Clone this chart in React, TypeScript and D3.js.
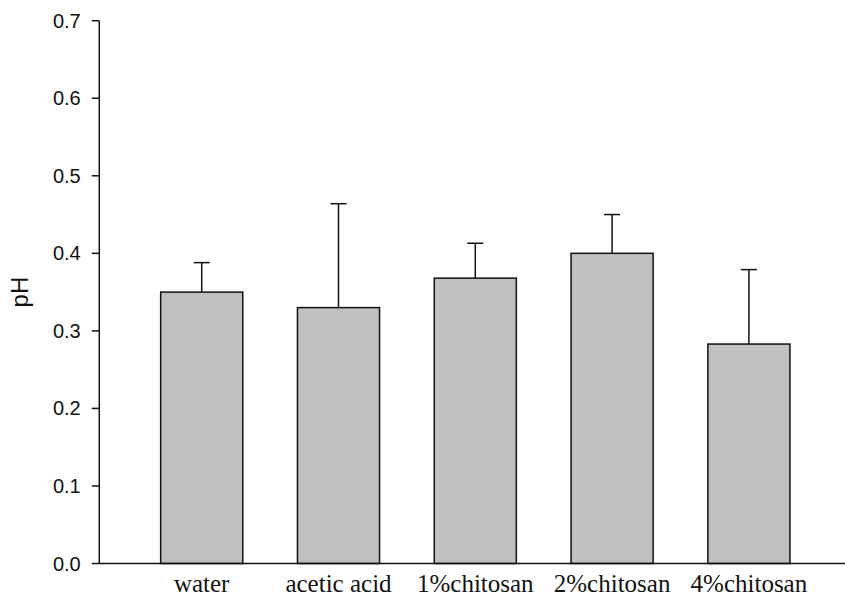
import { scaleLinear, scaleBand, range } from "d3";

const width = 845;
const height = 596;

const categories = ["water", "acetic acid", "1%chitosan", "2%chitosan", "4%chitosan"];
const means = [0.35, 0.33, 0.368, 0.4, 0.283];
const errors = [0.038, 0.134, 0.045, 0.05, 0.096];
const yTicks = [0.0, 0.1, 0.2, 0.3, 0.4, 0.5, 0.6, 0.7];
const yAxisLabel = "pH";

const axisX = 99.3;
const y0 = 563.5;
const yTop = 20.7;
const capHalf = 8;

export default function App() {
  const yScale = scaleLinear().domain([0, 0.7]).range([y0, yTop]);
  const xScale = scaleBand()
    .domain(categories)
    .range([133.3, 817.3])
    .paddingInner(0.4)
    .paddingOuter(0.2);

  const data = range(categories.length).map((i) => ({
    name: categories[i],
    value: means[i],
    err: errors[i],
  }));

  return (
    <div style={{ position: "absolute", left: 0, top: 0 }}>
      <svg width={width} height={height} style={{ display: "block", background: "#fff" }}>
        {/* bars */}
        {data.map((d) => {
          const x = xScale(d.name)!;
          const cx = x + xScale.bandwidth() / 2;
          return (
            <g key={d.name}>
              <line
                x1={cx}
                x2={cx}
                y1={yScale(d.value)}
                y2={yScale(d.value + d.err)}
                stroke="#111"
                strokeWidth={1.5}
              />
              <line
                x1={cx - capHalf}
                x2={cx + capHalf}
                y1={yScale(d.value + d.err)}
                y2={yScale(d.value + d.err)}
                stroke="#111"
                strokeWidth={1.5}
              />
              <rect
                x={x}
                y={yScale(d.value)}
                width={xScale.bandwidth()}
                height={y0 - yScale(d.value)}
                fill="#c0c0c0"
                stroke="#111"
                strokeWidth={1.5}
              />
            </g>
          );
        })}

        {/* y axis */}
        <line x1={axisX} x2={axisX} y1={yTop} y2={y0} stroke="#111" strokeWidth={1.5} />
        {yTicks.map((t) => (
          <g key={t}>
            <line
              x1={axisX - 7.5}
              x2={axisX}
              y1={yScale(t)}
              y2={yScale(t)}
              stroke="#111"
              strokeWidth={1.5}
            />
            <text
              x={80.7}
              y={yScale(t) + 7}
              textAnchor="end"
              fontFamily="Liberation Sans, Arial, sans-serif"
              fontSize={20}
              fill="#111"
            >
              {t.toFixed(1)}
            </text>
          </g>
        ))}
        <text
          transform={`translate(28, ${(y0 + yTop) / 2}) rotate(-90)`}
          textAnchor="middle"
          fontFamily="Liberation Sans, Arial, sans-serif"
          fontSize={24}
          fill="#111"
        >
          {yAxisLabel}
        </text>

        {/* x axis */}
        <line x1={axisX} x2={width} y1={y0} y2={y0} stroke="#111" strokeWidth={1.5} />
        {categories.map((c) => (
          <text
            key={c}
            x={xScale(c)! + xScale.bandwidth() / 2}
            y={592}
            textAnchor="middle"
            fontFamily="Liberation Serif, Times New Roman, serif"
            fontSize={25}
            fill="#111"
          >
            {c}
          </text>
        ))}
      </svg>
    </div>
  );
}
